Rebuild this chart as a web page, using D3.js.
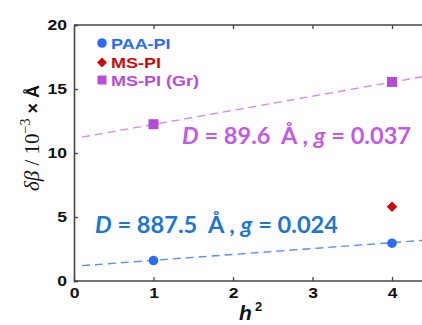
<!DOCTYPE html>
<html><head><meta charset="utf-8">
<script src="https://cdn.jsdelivr.net/npm/d3@7"></script>
<style>
html,body{margin:0;padding:0;background:#fff;}
svg{display:block;}
</style></head>
<body>
<script>
// ---- data ----
const xTicks = [0, 1, 2, 3, 4];
const yTicks = [0, 5, 10, 15, 20];
const seriesNames = ["PAA-PI", "MS-PI", "MS-PI (Gr)"];
const paaX = [1, 4];
const paaY = [1.6, 2.95];
const msX = [4];
const msY = [5.8];
const grX = [1, 4];
const grY = [12.25, 15.55];
const paaFitX = [0.1, 4.4];
const paaFitY = [1.2, 3.18];
const grFitX = [0.1, 4.4];
const grFitY = [11.24, 15.98];
const annPAA = ["D", " = 887.5\u00A0 Å , ", "g", " = 0.024"];
const annGr = ["D", " = 89.6\u00A0 Å , ", "g", " = 0.037"];

const W = 422, H = 325;
const cBlue = "#2a6cf4", cBlueLine = "#5b8ff0", cBlueText = "#1d76d0";
const cRed = "#cc0a0a";
const cPurple = "#b64bd9", cPurpleLine = "#d98bef", cPurpleText = "#c35ae6";

const svg = d3.select("body").append("svg").attr("width", W).attr("height", H);

const x = d3.scaleLinear().domain([0, 4.4]).range([74, 74 + 4.4 * 79.5]);
const y = d3.scaleLinear().domain([0, 20]).range([281, 25]);

const tickFont = "'Liberation Sans', Arial, sans-serif";
const SX = 1.17;

// axes
const axL = svg.append("g").attr("transform", `translate(${x(0)},0)`)
  .call(d3.axisLeft(y).tickValues(yTicks).tickSize(-4).tickPadding(7).tickFormat(d3.format("d")));
const axB = svg.append("g").attr("transform", `translate(0,${y(0)})`)
  .call(d3.axisBottom(x).tickValues(xTicks).tickSize(-4).tickPadding(6).tickFormat(d3.format("d")));
const axT = svg.append("g").attr("transform", `translate(0,${y(20)})`)
  .call(d3.axisTop(x).tickValues(xTicks.slice(1)).tickSize(-4).tickFormat(""));
[axL, axB, axT].forEach(g => {
  g.select(".domain").attr("stroke", "#444").attr("stroke-width", 1.6);
  g.selectAll(".tick line").attr("stroke", "#444").attr("stroke-width", 1.3);
  g.selectAll("text").attr("font-family", tickFont).attr("font-weight", "bold")
    .attr("font-size", 15).attr("fill", "#111");
});
axL.selectAll(".tick text").attr("transform", `scale(${SX},1)`).attr("x", -7 / SX);
axB.selectAll(".tick text").attr("transform", `scale(${SX},1)`);
// extend top/bottom domain to the right edge
axT.select(".domain").attr("d", `M${x(0)},0H${W}`);
axB.select(".domain").attr("d", `M${x(0)},0H${W}`);

// fit lines
const line = d3.line().x(d => x(d[0])).y(d => y(d[1]));
svg.append("path").datum(d3.zip(paaFitX, paaFitY)).attr("d", line)
  .attr("fill", "none").attr("stroke", cBlueLine).attr("stroke-width", 1.4).attr("stroke-dasharray", "8,5");
svg.append("path").datum(d3.zip(grFitX, grFitY)).attr("d", line)
  .attr("fill", "none").attr("stroke", cPurpleLine).attr("stroke-width", 1.4).attr("stroke-dasharray", "8,5");

// markers
const sym = (type, size) => d3.symbol().type(type).size(size)();
svg.selectAll(".paa").data(d3.zip(paaX, paaY)).join("path")
  .attr("transform", d => `translate(${x(d[0])},${y(d[1])})`)
  .attr("d", sym(d3.symbolCircle, 72)).attr("fill", cBlue);
svg.selectAll(".ms").data(d3.zip(msX, msY)).join("path")
  .attr("transform", d => `translate(${x(d[0])},${y(d[1])}) rotate(45)`)
  .attr("d", sym(d3.symbolSquare, 56)).attr("fill", cRed);
svg.selectAll(".gr").data(d3.zip(grX, grY)).join("path")
  .attr("transform", d => `translate(${x(d[0])},${y(d[1])})`)
  .attr("d", sym(d3.symbolSquare, 100)).attr("fill", cPurple);

// legend
const legCols = [cBlue, cRed, cPurple];
const legTypes = [d3.symbolCircle, d3.symbolSquare, d3.symbolSquare];
const legSizes = [72, 50, 80];
const legY = [43, 62.5, 80];
seriesNames.forEach((n, i) => {
  svg.append("path").attr("d", sym(legTypes[i], legSizes[i]))
    .attr("transform", `translate(102,${legY[i]})` + (i === 1 ? " rotate(45)" : ""))
    .attr("fill", legCols[i]);
  svg.append("text").text(n)
    .attr("transform", `translate(111,${legY[i] + 5.5}) scale(1.2,1)`)
    .attr("font-family", tickFont).attr("font-weight", "bold").attr("font-size", 15)
    .attr("fill", legCols[i]);
});

// annotations
function ann(parts, px, py, len, col) {
  const t = svg.append("text").attr("x", px).attr("y", py)
    .attr("font-family", "Lato, 'Open Sans', sans-serif").attr("font-weight", "bold")
    .attr("font-size", 22).attr("fill", col)
    .attr("textLength", len).attr("lengthAdjust", "spacingAndGlyphs")
    .style("white-space", "pre");
  parts.forEach((p, i) => t.append("tspan").text(p).attr("font-style", i % 2 === 0 ? "italic" : "normal"));
}
ann(annGr, 182, 143.5, 229, cPurpleText);
ann(annPAA, 95, 233, 243, cBlueText);

// y label
const yl = svg.append("text").attr("transform", "translate(39,138) rotate(-90)")
  .attr("text-anchor", "middle").attr("fill", "#111").style("white-space", "pre");
yl.append("tspan").text("δβ").attr("font-family", "'Liberation Serif', 'DejaVu Serif', serif")
  .attr("font-style", "italic").attr("font-size", 21);
yl.append("tspan").text(" / 10").attr("font-family", "'Liberation Serif', serif").attr("font-size", 21);
yl.append("tspan").text("−3").attr("font-family", "'Liberation Serif', serif").attr("font-size", 14).attr("dy", -9);
yl.append("tspan").text(" × Å").attr("font-family", tickFont).attr("font-weight", "bold")
  .attr("font-size", 18).attr("dy", 9);

// x label
svg.append("text").attr("x", 239).attr("y", 320).text("h")
  .attr("font-family", tickFont).attr("font-weight", "bold").attr("font-style", "italic")
  .attr("font-size", 21).attr("fill", "#111");
svg.append("text").attr("x", 255).attr("y", 311).text("2")
  .attr("font-family", tickFont).attr("font-weight", "bold").attr("font-size", 13).attr("fill", "#111");
</script>
</body></html>
